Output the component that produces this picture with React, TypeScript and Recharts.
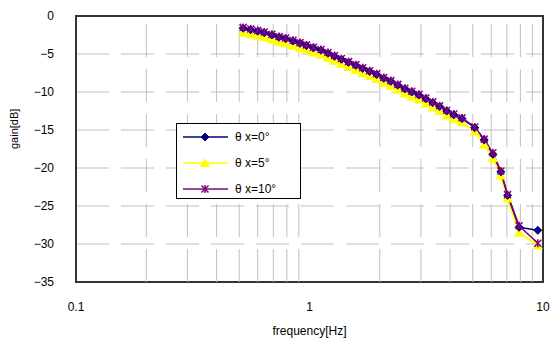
import React from 'react';
import { LineChart, Line, XAxis, YAxis, CartesianGrid, ReferenceLine, ReferenceArea } from 'recharts';

// frequency [Hz] of each measured point
const freqs = [
  0.52, 0.56, 0.6, 0.64, 0.69, 0.74, 0.79, 0.85, 0.91, 0.97, 1.04, 1.12, 1.2, 1.28, 1.37, 1.47, 1.58, 1.69, 1.81,
  1.94, 2.08, 2.23, 2.39, 2.56, 2.74, 2.94, 3.15, 3.37, 3.61, 3.87, 4.15, 4.5, 5.1, 5.6, 6.1, 6.6, 7.05, 7.9, 9.5,
];

// gain [dB]
const gainX0 = [
  -1.6, -1.8, -2.0, -2.2, -2.5, -2.8, -3.0, -3.3, -3.6, -3.9, -4.2, -4.5, -4.9, -5.3, -5.7, -6.1, -6.5, -6.9, -7.3,
  -7.7, -8.2, -8.6, -9.1, -9.6, -10.0, -10.4, -10.9, -11.4, -11.9, -12.5, -13.0, -13.5, -14.7, -16.3, -18.2, -20.5,
  -23.6, -27.8, -28.2,
];
const gainX5 = [
  -2.2, -2.4, -2.6, -2.8, -3.1, -3.4, -3.6, -3.9, -4.2, -4.5, -4.8, -5.1, -5.5, -5.9, -6.3, -6.7, -7.1, -7.5, -7.9,
  -8.3, -8.8, -9.2, -9.7, -10.2, -10.6, -11.0, -11.5, -12.0, -12.5, -13.1, -13.6, -14.0, -15.2, -16.9, -18.7, -21.0,
  -24.0, -28.5, -30.2,
];
const gainX10 = [
  -1.5, -1.7, -1.9, -2.1, -2.4, -2.7, -2.9, -3.2, -3.5, -3.8, -4.1, -4.4, -4.8, -5.2, -5.6, -6.0, -6.4, -6.8, -7.2,
  -7.6, -8.1, -8.5, -9.0, -9.5, -9.9, -10.3, -10.8, -11.3, -11.8, -12.4, -12.9, -13.4, -14.6, -16.2, -18.0, -20.4,
  -23.5, -27.6, -29.9,
];

const xTicks = [0.1, 1, 10];
const yTicks = [-35, -30, -25, -20, -15, -10, -5, 0];
const minorFreqs = [0.2, 0.3, 0.4, 0.5, 0.6, 0.7, 0.8, 0.9, 2, 3, 4, 5, 6, 7, 8, 9];

const data = freqs.map((f, i) => ({ f, x0: gainX0[i], x5: gainX5[i], x10: gainX10[i] }));

const NAVY = '#000080';
const YELLOW = '#ffff00';
const PURPLE = '#800080';
const FONT = '"Liberation Sans", Arial, sans-serif';
const DASH = '33 12';

const Diamond = ({ cx, cy, color = NAVY }: any) =>
  cx == null ? null : (
    <polygon points={`${cx},${cy - 4} ${cx + 4},${cy} ${cx},${cy + 4} ${cx - 4},${cy}`} fill={color} stroke={color} />
  );

const Triangle = ({ cx, cy, color = YELLOW }: any) =>
  cx == null ? null : (
    <polygon points={`${cx},${cy - 4} ${cx + 4.5},${cy + 3.5} ${cx - 4.5},${cy + 3.5}`} fill={color} stroke={color} />
  );

const Star = ({ cx, cy, color = PURPLE }: any) =>
  cx == null ? null : (
    <g stroke={color} strokeWidth={1.5}>
      <line x1={cx - 3.5} y1={cy - 3.5} x2={cx + 3.5} y2={cy + 3.5} />
      <line x1={cx - 3.5} y1={cy + 3.5} x2={cx + 3.5} y2={cy - 3.5} />
      <line x1={cx} y1={cy - 4} x2={cx} y2={cy + 4} />
    </g>
  );

const legendRows = [
  { label: 'θ x=0°', color: NAVY, Mark: Diamond },
  { label: 'θ x=5°', color: YELLOW, Mark: Triangle },
  { label: 'θ x=10°', color: PURPLE, Mark: Star },
];

// legend box drawn over the plot, like the original
const LegendBox = () => (
  <svg
    width={125}
    height={76}
    style={{ position: 'absolute', left: 176, top: 123, background: '#fff', border: '1.5px solid #000', boxSizing: 'border-box' }}
  >
    {legendRows.map((r, i) => {
      const y = 13 + i * 26;
      return (
        <g key={r.label}>
          <line x1={6} y1={y} x2={51} y2={y} stroke={r.color} strokeWidth={1.5} />
          <r.Mark cx={28} cy={y} color={r.color} />
          <text x={58} y={y + 4} fontSize={12} fontFamily={FONT} fill="#000">
            {r.label}
          </text>
        </g>
      );
    })}
  </svg>
);

const fmt = (v: number) => (v < 0 ? `−${-v}` : `${v}`);

export default function App() {
  return (
    <div style={{ position: 'absolute', left: 0, top: 0, width: 553, height: 345, background: '#fff' }}>
      <LineChart width={553} height={345} data={data} margin={{ top: 16, right: 10, bottom: 0, left: 0 }}>
        <CartesianGrid vertical={false} stroke="#c0c0c0" strokeDasharray={DASH} />
        {minorFreqs.map((f) => (
          <ReferenceLine key={f} x={f} stroke="#c0c0c0" strokeDasharray={DASH} />
        ))}
        <ReferenceArea x1={0.1} x2={10} y1={-35} y2={0} fill="none" stroke="#333" strokeWidth={2} ifOverflow="visible" />
        <XAxis
          dataKey="f"
          type="number"
          scale="log"
          domain={[0.1, 10]}
          ticks={xTicks}
          allowDataOverflow
          height={63}
          axisLine={false}
          tickLine={false}
          tickMargin={14}
          tick={{ fontSize: 12, fontFamily: FONT, fill: '#000' }}
          label={{ value: 'frequency[Hz]', position: 'insideBottom', offset: 10, fontSize: 12, fontFamily: FONT, fill: '#000' }}
        />
        <YAxis
          type="number"
          domain={[-35, 0]}
          ticks={yTicks}
          width={76}
          axisLine={false}
          tickLine={false}
          tickMargin={16}
          tickFormatter={fmt}
          tick={{ fontSize: 12, fontFamily: FONT, fill: '#000' }}
          label={{ value: 'gain[dB]', angle: -90, position: 'insideLeft', offset: 14, fontSize: 11, fontFamily: FONT, fill: '#000' }}
        />
        <Line dataKey="x5" stroke={YELLOW} strokeWidth={2} dot={<Triangle />} isAnimationActive={false} />
        <Line dataKey="x0" stroke={NAVY} strokeWidth={1.5} dot={<Diamond />} isAnimationActive={false} />
        <Line dataKey="x10" stroke={PURPLE} strokeWidth={1.5} dot={<Star />} isAnimationActive={false} />
      </LineChart>
      <LegendBox />
    </div>
  );
}
